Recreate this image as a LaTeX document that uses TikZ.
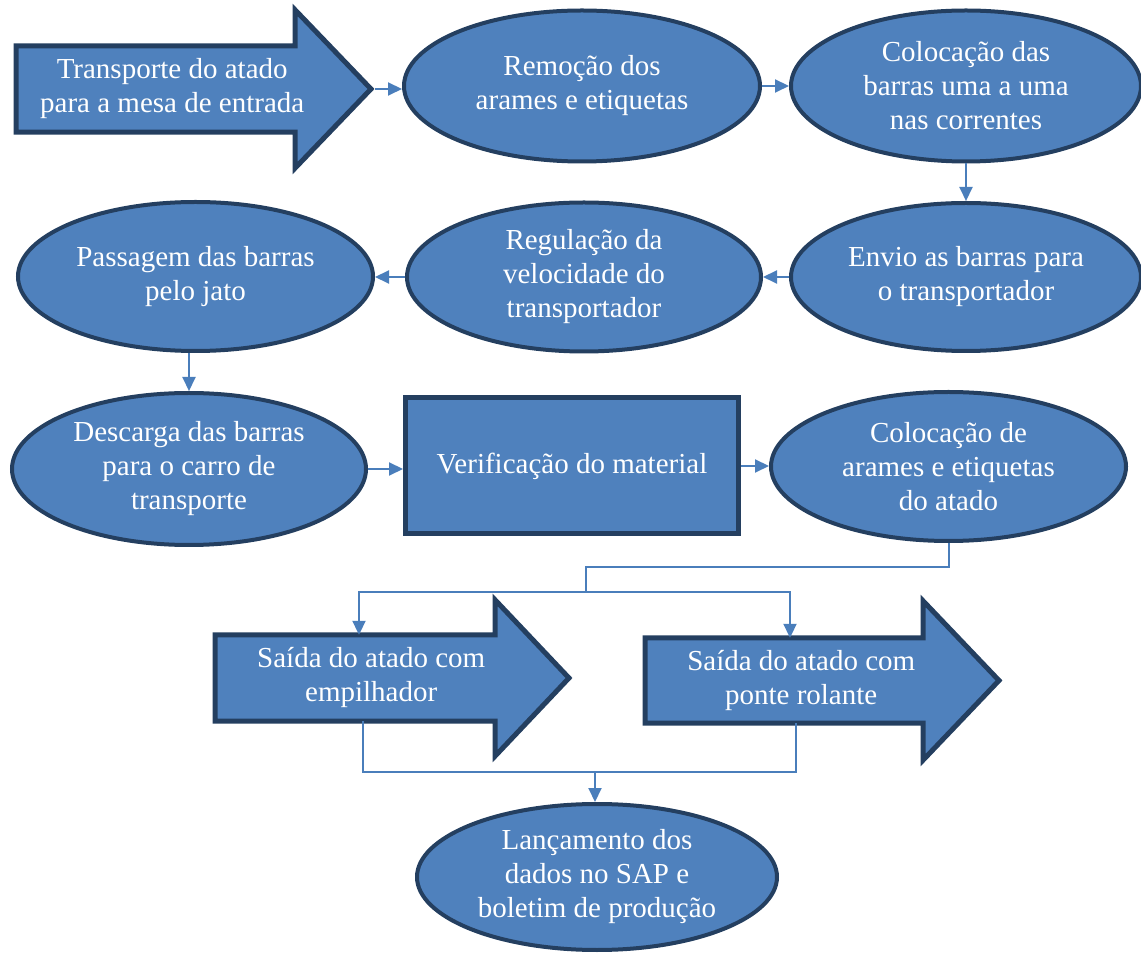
\documentclass[tikz,border=0pt]{standalone}
\usepackage{fontspec}
\setmainfont{Liberation Serif}
\usetikzlibrary{arrows.meta,calc,shapes.geometric,backgrounds}
\definecolor{stagefill}{RGB}{79,129,189}
\definecolor{stageedge}{RGB}{36,63,96}
\definecolor{linkblue}{RGB}{74,126,187}

\begin{document}
\begin{tikzpicture}[
  x=1pt, y=1pt,
  steptext/.style={text=white, align=center, font=\fontsize{29}{34}\selectfont},
  oval/.style={ellipse, steptext, draw=stageedge, fill=stagefill,
               line width=4pt, inner sep=0pt},
  panel/.style={rectangle, steptext, draw=stageedge, fill=stagefill,
                line width=5pt, inner sep=0pt},
  shaft/.style={rectangle, steptext, inner sep=0pt, anchor=west},
  bigarrow/.style={draw=stageedge, fill=stagefill, line width=5pt, line join=miter},
  arr/.style={-{Triangle[length=14pt,width=13pt]}, draw=linkblue, line width=2pt},
  link/.style={draw=linkblue, line width=2pt},
]
\useasboundingbox (0,0) rectangle (1141,954);

\node[shaft, minimum width=312pt, minimum height=86pt] (haul) at (16,865)
  {Transporte do atado\\para a mesa de entrada};
\node[oval, minimum width=356pt, minimum height=151pt] (removal) at (582,868)
  {Remoção dos\\arames e etiquetas};
\node[oval, minimum width=350pt, minimum height=151pt] (feeding) at (966,868)
  {Colocação das\\barras uma a uma\\nas correntes};

\node[oval, minimum width=350pt, minimum height=148pt] (sending) at (966,677)
  {Envio as barras para\\o transportador};
\node[oval, minimum width=354pt, minimum height=149pt] (regulation) at (584,677)
  {Regulação da\\velocidade do\\transportador};
\node[oval, minimum width=355pt, minimum height=149pt] (passage) at (195.5,677.5)
  {Passagem das barras\\pelo jato};

\node[oval, minimum width=354pt, minimum height=152pt] (unload) at (189,485)
  {Descarga das barras\\para o carro de\\transporte};
\node[panel, minimum width=333pt, minimum height=136pt] (check) at (572,488)
  {Verificação do material};
\node[oval, minimum width=355pt, minimum height=149pt] (tying) at (948.5,487.5)
  {Colocação de\\arames e etiquetas\\do atado};

\node[shaft, minimum width=312pt, minimum height=86pt] (forklift) at (215,276)
  {Saída do atado com\\empilhador};
\node[shaft, minimum width=312pt, minimum height=85pt] (crane) at (645,273.5)
  {Saída do atado com\\ponte rolante};

\node[oval, minimum width=360pt, minimum height=146pt] (posting) at (597,77)
  {Lançamento dos\\dados no SAP e\\boletim de produção};

\begin{scope}[on background layer]
\draw[bigarrow] (haul.north west) -- ++(279,0) -- ++(0,36) -- ($(haul.west)+(355,0)$)
  -- ($(haul.south west)+(279,-36)$) -- ++(0,36) -- (haul.south west) -- cycle;
\draw[bigarrow] (forklift.north west) -- ++(280,0) -- ++(0,35) -- ($(forklift.west)+(354,0)$)
  -- ($(forklift.south west)+(280,-35)$) -- ++(0,35) -- (forklift.south west) -- cycle;
\draw[bigarrow] (crane.north west) -- ++(278,0) -- ++(0,37) -- ($(crane.west)+(354,0)$)
  -- ($(crane.south west)+(278,-37)$) -- ++(0,37) -- (crane.south west) -- cycle;
\end{scope}

\draw[arr] ($(haul.west)+(359,0)$) -- (haul.west -| removal.west);
\draw[arr] (removal.east) -- (removal.east -| feeding.west);
\draw[arr] (feeding.south) -- (feeding.south |- sending.north);
\draw[arr] (sending.west) -- (sending.west -| regulation.east);
\draw[arr] (regulation.west) -- (regulation.west -| passage.east);
\draw[arr] (unload.north |- passage.south) -- (unload.north);
\draw[arr] (unload.east) -- (unload.east -| check.west);
\draw[arr] (check.east) -- (check.east -| tying.west);

\coordinate (split) at (586,362);
\draw[link] (tying.south) |- ($(split)+(0,25)$) -- (split);
\draw[arr] (split) -| ($(forklift.north west)+(144,0)$);
\draw[arr] (split) -| ($(crane.north west)+(145,0)$);

\coordinate (merge) at (595,182);
\draw[link] ($(forklift.south west)+(148,0)$) |- (merge);
\draw[link] ($(crane.south west)+(151,0)$) |- (merge);
\draw[arr] (merge) -- (merge |- posting.north);
\end{tikzpicture}
\end{document}
